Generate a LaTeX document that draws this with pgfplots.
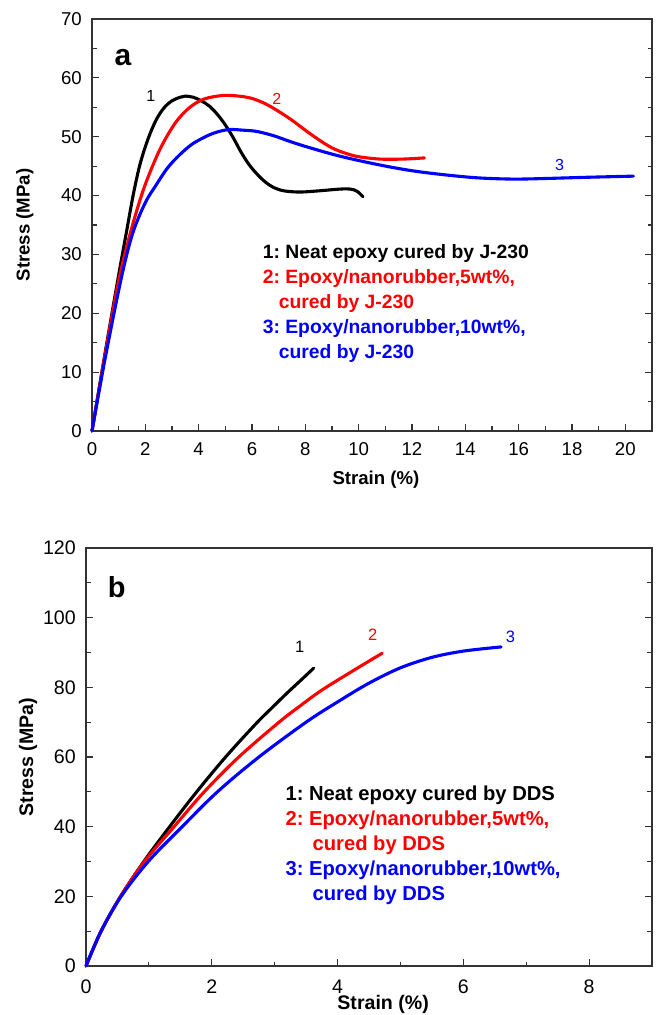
\documentclass[border=0pt]{standalone}
\usepackage{pgfplots}
\pgfplotsset{compat=1.18}
\usepackage{fontspec}
\setmainfont{Liberation Sans}
\definecolor{cred}{RGB}{255,0,0}
\definecolor{cblue}{RGB}{0,0,255}
\frenchspacing
\begin{document}
\begin{tikzpicture}
\useasboundingbox (0pt,0pt) rectangle (656pt,1015pt);
\pgfplotsset{
  common/.style={
    scale only axis, anchor=south west, clip=false,
    axis line style={line width=1.3pt, color=black!80},
    tick style={line width=1.2pt, color=black!80},
    tick align=inside, major tick length=7pt, minor tick length=4.5pt,
    xtick pos=bottom, ytick pos=both, yticklabel pos=left,
    /pgf/number format/assume math mode=true,
    minor x tick num=1, minor y tick num=1,
  },
  crv/.style={line width=3.1pt, line join=round, line cap=round, smooth, tension=0.55},
}
% ---------------- panel a ----------------
\begin{axis}[common,
  at={(92pt,584pt)}, width=560pt, height=412pt,
  xmin=0, xmax=21, ymin=0, ymax=70,
  xtick={0,2,...,20}, ytick={0,10,...,70},
  tick label style={font=\fontsize{18.6}{20}\selectfont},
  xticklabel style={yshift=-8pt},
  yticklabel style={xshift=-6.7pt},
  xlabel={Strain (\%)}, ylabel={Stress (MPa)},
  xlabel style={at={(axis description cs:0.507,-0.119)}, anchor=center, font=\bfseries\fontsize{18.6}{20}\selectfont},
  ylabel style={at={(axis description cs:-0.12,0.5)}, anchor=center, font=\bfseries\fontsize{18.6}{20}\selectfont},
]
\addplot[crv, black] coordinates {(0,0) (0.5,13.5) (1.0,26.5) (1.3,34) (1.55,40.2) (1.8,45.3) (2.1,49.6) (2.4,52.8) (2.7,54.9) (3.0,56.1) (3.3,56.7) (3.5,56.9) (3.8,56.7) (4.1,56.1) (4.4,55.2) (4.7,53.8) (5.0,52.0) (5.3,49.8) (5.6,47.3) (5.9,45.2) (6.2,43.6) (6.5,42.3) (6.8,41.4) (7.2,40.8) (7.8,40.6) (8.5,40.8) (9.3,41.1) (9.7,41.1) (9.95,40.7) (10.16,39.8)};
\addplot[crv, cred] coordinates {(0,0) (0.5,13.2) (1.0,25.5) (1.43,33.5) (1.92,40.9) (2.42,46.6) (2.8,50.0) (3.2,52.8) (3.67,55.0) (4.2,56.4) (4.9,57.0) (5.5,56.9) (6.0,56.5) (6.5,55.6) (7.0,54.3) (7.5,52.8) (8.0,51.1) (8.5,49.5) (9.0,48.1) (9.5,47.2) (10.0,46.6) (10.8,46.2) (11.66,46.2) (12.47,46.4)};
\addplot[crv, cblue] coordinates {(0,0) (0.5,12.5) (1.1,26) (1.52,33.5) (2.0,38.8) (2.42,41.9) (2.8,44.5) (3.17,46.4) (3.6,48.2) (3.92,49.2) (4.5,50.5) (5.1,51.2) (5.7,51.1) (6.17,50.9) (6.79,50.2) (7.42,49.2) (8.04,48.3) (9.29,46.7) (10.79,45.2) (12.03,44.2) (13.28,43.5) (14.5,43.0) (15.8,42.8) (17,42.9) (18.5,43.1) (20.3,43.3)};
\node[font=\bfseries\fontsize{30}{32}\selectfont] at (axis cs:1.16,63.4) {a};
\node[font=\fontsize{16}{18}\selectfont] at (axis cs:2.21,56.9) {1};
\node[font=\fontsize{16}{18}\selectfont, text=cred] at (axis cs:6.93,56.4) {2};
\node[font=\fontsize{16}{18}\selectfont, text=cblue] at (axis cs:17.53,45.2) {3};
\begin{scope}[every node/.style={anchor=mid west, inner sep=0pt, font=\bfseries\fontsize{19.3}{20}\selectfont}]
\node at (axis cs:6.40,29.7) {1: Neat epoxy cured by J-230};
\node[text=cred] at (axis cs:6.40,25.5) {2: Epoxy/nanorubber,5wt\%,};
\node[text=cred] at (axis cs:7.00,21.2) {cured by J-230};
\node[text=cblue] at (axis cs:6.40,17.0) {3: Epoxy/nanorubber,10wt\%,};
\node[text=cblue] at (axis cs:7.00,12.7) {cured by J-230};
\end{scope}
\end{axis}
% ---------------- panel b ----------------
\begin{axis}[common,
  at={(86pt,49pt)}, width=566pt, height=418pt,
  xmin=0, xmax=9, ymin=0, ymax=120,
  xtick={0,2,...,8}, ytick={0,20,...,120},
  tick label style={font=\fontsize{19.6}{21}\selectfont},
  xticklabel style={yshift=-10pt},
  yticklabel style={xshift=-6.7pt},
  xlabel={Strain (\%)}, ylabel={Stress (MPa)},
  xlabel style={at={(axis description cs:0.525,-0.093)}, anchor=center, font=\bfseries\fontsize{19.6}{21}\selectfont},
  ylabel style={at={(axis description cs:-0.1025,0.5)}, anchor=center, font=\bfseries\fontsize{19.6}{21}\selectfont},
]
\addplot[crv, black] coordinates {(0,0) (0.24,10) (0.55,20) (0.92,30) (1.33,40) (1.76,50) (2.22,60) (2.7,69.5) (2.95,74) (3.2,78.4) (3.42,82.1) (3.62,85.5)};
\addplot[crv, cred] coordinates {(0,0) (0.24,10) (0.55,20) (0.93,30) (1.4,40) (1.88,50) (2.43,60) (3.07,70) (3.4,74.6) (3.75,79.2) (4.25,84.8) (4.71,89.8)};
\addplot[crv, cblue] coordinates {(0,0) (0.24,10) (0.56,20) (0.99,30) (1.53,40) (2.09,50) (2.75,60) (3.5,70) (4.0,75.8) (4.5,81.2) (5.0,85.6) (5.5,88.6) (6.0,90.4) (6.6,91.6)};
\node[font=\bfseries\fontsize{29}{31}\selectfont] at (axis cs:0.49,108.8) {b};
\node[font=\fontsize{16.5}{18}\selectfont] at (axis cs:3.40,91.6) {1};
\node[font=\fontsize{16.5}{18}\selectfont, text=cred] at (axis cs:4.56,95.0) {2};
\node[font=\fontsize{16.5}{18}\selectfont, text=cblue] at (axis cs:6.75,94.5) {3};
\begin{scope}[every node/.style={anchor=mid west, inner sep=0pt, font=\bfseries\fontsize{20.2}{21}\selectfont}]
\node at (axis cs:3.17,48.2) {1: Neat epoxy cured by DDS};
\node[text=cred] at (axis cs:3.17,41.1) {2: Epoxy/nanorubber,5wt\%,};
\node[text=cred] at (axis cs:3.60,33.9) {cured by DDS};
\node[text=cblue] at (axis cs:3.17,26.7) {3: Epoxy/nanorubber,10wt\%,};
\node[text=cblue] at (axis cs:3.60,19.5) {cured by DDS};
\end{scope}
\end{axis}
\end{tikzpicture}
\end{document}
